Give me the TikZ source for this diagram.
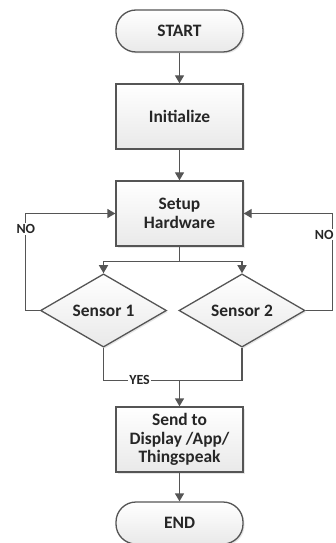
\documentclass[tikz,border=0pt]{standalone}
\usepackage{fontspec}
\setmainfont{Carlito}
\usepackage{tikz}
\usetikzlibrary{shapes,arrows.meta,positioning,calc,shadows}
\definecolor{linegray}{HTML}{555555}
\definecolor{boxgray}{HTML}{E9E9E9}

\tikzset{
  base/.style={draw=linegray, line width=1.3bp, top color=white, bottom color=boxgray,
    drop shadow={opacity=0.2, shadow xshift=1.5bp, shadow yshift=-1.5bp},
    font=\bfseries\fontsize{17.5}{18.5}\selectfont, align=center, text=black!85},
  terminal/.style={base, rounded corners=20bp, minimum width=127bp, minimum height=42bp},
  process/.style={base, minimum width=127bp, minimum height=65bp},
  decision/.style={base, diamond, minimum width=126bp, minimum height=63bp, inner sep=0pt},
  flow/.style={draw=linegray, line width=1.3bp, -{Triangle[length=8bp,width=9bp]}},
  link/.style={draw=linegray, line width=1.3bp},
  tag/.style={fill=white, inner sep=1bp, font=\bfseries\fontsize{14}{15}\selectfont, text=black!85}
}

\begin{document}
\begin{tikzpicture}[x=1bp, y=-1bp]
    \useasboundingbox (0,0) rectangle (335,543);

    % Blocs
    \node[terminal] (start) at (179.5,31) {START};
    \node[process] (init) at (179.5,116.5) {Initialize};
    \node[process] (setup) at (179.5,213.5) {Setup\\Hardware};
    \node[decision] (sens1) at (103.5,310.5) {Sensor 1};
    \node[decision] (sens2) at (242,310.5) {Sensor 2};
    \node[process] (send) at (179.5,439.5) {Send to\\Display /App/\\Thingspeak};
    \node[terminal] (end) at (179.5,523) {END};

    % Liaisons
    \draw[flow] (start) -- (init);
    \draw[flow] (init) -- (setup);
    \draw[link] (setup.south) -- ++(0,15) coordinate (split);
    \draw[flow] (split) -| (sens1.north);
    \draw[flow] (split) -| (sens2.north);

    % Boucles NO / sortie YES
    \draw[flow] (sens1.west) -- ++(-14,0) |- node[tag, pos=0.42] {NO} (setup.west);
    \draw[flow] (sens2.east) -- ++(26.5,0) |- node[tag, pos=0.39, xshift=-8bp] {NO} (setup.east);
    \draw[link] (sens1.south) -- ++(0,32.5) coordinate (merge) -| node[tag, pos=0.13] {YES} (sens2.south);
    \coordinate (join) at (merge -| send.north);
    \draw[flow] (join) -- (send.north);
    \draw[flow] (send) -- (end);
\end{tikzpicture}
\end{document}
